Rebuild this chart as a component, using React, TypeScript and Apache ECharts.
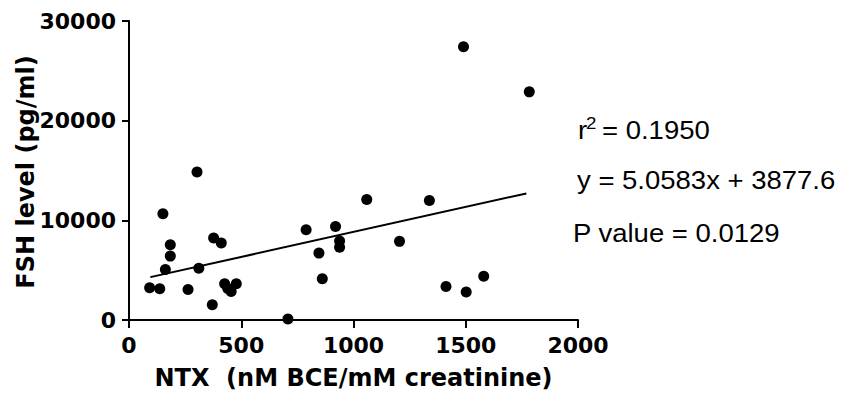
import React, { useEffect, useRef } from "react";
import * as echarts from "echarts";

const ntx = [92, 137, 151, 162, 184, 184, 263, 303, 311, 371, 377, 411, 426, 440, 455, 478, 708, 789, 846, 861, 920, 938, 938, 1059, 1205, 1338, 1412, 1490, 1502, 1580, 1783];
const fsh = [3235, 3135, 10670, 5070, 7560, 6410, 3060, 14850, 5200, 1530, 8220, 7720, 3640, 3150, 2850, 3640, 100, 9060, 6710, 4140, 9390, 7920, 7310, 12100, 7890, 12000, 3370, 27410, 2800, 4400, 22890];
const fitX = [95, 1770];
const fitY = [4300, 12700];
const xTicks = [0, 500, 1000, 1500, 2000];
const yTicks = [0, 10000, 20000, 30000];
const xTitle = "NTX  (nM BCE/mM creatinine)";
const yTitle = "FSH level (pg/ml)";
const statR2 = "= 0.1950";
const statEq = "y = 5.0583x + 3877.6";
const statP = "P value = 0.0129";

export default function App() {
  const ref = useRef<HTMLDivElement>(null);
  useEffect(() => {
    if (!ref.current) return;
    const chart = echarts.init(ref.current, null, { renderer: "svg" });
    const axisFont = { fontFamily: "DejaVu Sans", fontWeight: "bold" as const, color: "#000" };
    const statFont = "25px 'Liberation Sans', Arial, sans-serif";
    chart.setOption({
      animation: false,
      backgroundColor: "#fff",
      grid: { left: 129, right: 273, top: 21, bottom: 81, containLabel: false },
      xAxis: {
        type: "value",
        min: xTicks[0],
        max: xTicks[xTicks.length - 1],
        interval: xTicks[1] - xTicks[0],
        name: xTitle,
        nameLocation: "middle",
        nameGap: 46,
        nameTextStyle: { ...axisFont, fontSize: 24 },
        axisLine: { show: true, onZero: false, lineStyle: { color: "#000", width: 2 } },
        axisTick: { show: true, length: 8, lineStyle: { color: "#000", width: 2 } },
        axisLabel: { ...axisFont, fontSize: 22, margin: 14, formatter: (v: number) => String(v) },
        splitLine: { show: false },
      },
      yAxis: {
        type: "value",
        min: yTicks[0],
        max: yTicks[yTicks.length - 1],
        interval: yTicks[1] - yTicks[0],
        axisLine: { show: true, onZero: false, lineStyle: { color: "#000", width: 2 } },
        axisTick: { show: true, length: 7, lineStyle: { color: "#000", width: 2 } },
        axisLabel: { ...axisFont, fontSize: 22, margin: 13, formatter: (v: number) => String(v) },
        splitLine: { show: false },
      },
      series: [
        {
          type: "line",
          data: fitX.map((x, i) => [x, fitY[i]]),
          showSymbol: false,
          symbol: "none",
          lineStyle: { color: "#000", width: 2 },
          z: 2,
        },
        {
          type: "scatter",
          data: ntx.map((x, i) => [x, fsh[i]]),
          symbol: "circle",
          symbolSize: 11,
          itemStyle: { color: "#000", opacity: 1 },
          clip: false,
          z: 3,
        },
      ],
      graphic: [
        {
          type: "text",
          x: 26,
          y: 172,
          rotation: Math.PI / 2,
          style: {
            text: yTitle,
            font: "bold 24px 'DejaVu Sans'",
            fill: "#000",
            align: "center",
            verticalAlign: "middle",
          },
        },
        {
          type: "text",
          x: 578,
          y: 130,
          scaleX: 1.1,
          style: { text: "r", font: statFont, fill: "#000", verticalAlign: "middle" },
        },
        {
          type: "text",
          x: 586,
          y: 123,
          scaleX: 1.1,
          style: { text: "2", font: "17px 'Liberation Sans', Arial, sans-serif", fill: "#000", verticalAlign: "middle" },
        },
        {
          type: "text",
          x: 602,
          y: 130,
          scaleX: 1.1,
          style: { text: statR2, font: statFont, fill: "#000", verticalAlign: "middle" },
        },
        {
          type: "text",
          x: 577,
          y: 180,
          scaleX: 1.1,
          style: { text: statEq, font: statFont, fill: "#000", verticalAlign: "middle" },
        },
        {
          type: "text",
          x: 573,
          y: 233,
          scaleX: 1.1,
          style: { text: statP, font: statFont, fill: "#000", verticalAlign: "middle" },
        },
      ],
    });
    return () => chart.dispose();
  }, []);
  return (
    <div
      ref={ref}
      style={{ position: "fixed", left: 0, top: 0, width: 851, height: 401, background: "#fff" }}
    />
  );
}
